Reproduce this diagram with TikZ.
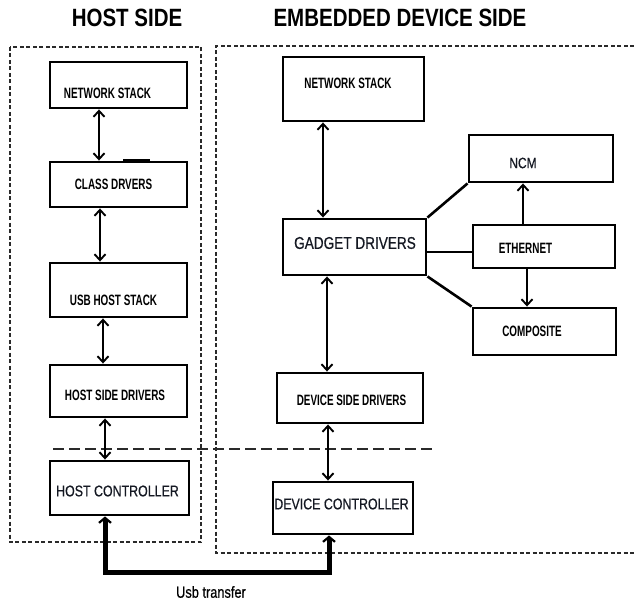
\documentclass[tikz,border=0pt]{standalone}
\usepackage{fontspec}
\setmainfont{Liberation Sans}
\newfontfamily\titlefont{Liberation Sans Bold}[FakeStretch=0.82]
\newfontfamily\boxbold{Liberation Sans Bold}[FakeStretch=0.66]
\newfontfamily\boxreg{Liberation Sans}[FakeStretch=0.8, FakeBold=0.6]
\usetikzlibrary{arrows.meta}
\definecolor{ink}{HTML}{141822}
\definecolor{bound}{HTML}{2A2A2A}
\tikzset{
  box/.style={draw, line width=2.9pt, rectangle, inner sep=0pt},
  ttl/.style={font=\titlefont\fontsize{25}{28}\selectfont, inner sep=0pt},
  lblb/.style={font=\boxbold\fontsize{15}{17}\selectfont, inner sep=0pt},
  lblr/.style={font=\boxreg\fontsize{15.5}{17}\selectfont, text=ink, inner sep=0pt},
  biarrow/.style={line width=1.9pt, {Straight Barb[length=6pt,width=11pt]}-{Straight Barb[length=6pt,width=11pt]}},
  onearrow/.style={line width=1.9pt, -{Straight Barb[length=6pt,width=11pt]}},
  link/.style={line width=2.6pt},
  usbline/.style={line width=5pt, {Straight Barb[length=5pt,width=12pt,line width=2.2pt]}-{Straight Barb[length=5pt,width=12pt,line width=2.2pt]}},
  boundary/.style={draw=bound, line width=1.1pt, dash pattern=on 4pt off 2.5pt},
  split/.style={draw=bound, line width=1.3pt, dash pattern=on 11pt off 5pt},
}
\begin{document}
\begin{tikzpicture}[x=1pt,y=-1pt]
\useasboundingbox (0,0) rectangle (634,604);

% titles
\node[ttl] (thost) at (127,18) {HOST SIDE};
\node[ttl] (tdev) at (400,18) {EMBEDDED DEVICE SIDE};

% side boundaries
\draw[boundary] (10,47) rectangle (201,542);
\draw[boundary] (634,46) -- (216,46) -- (216,553) -- (634,553);

% split between software and controllers
\coordinate (splitl) at (53,449);
\coordinate (splitr) at (433,449);
\draw[split] (splitl) -- (splitr);

% host side stack
\node[box, minimum width=137pt, minimum height=46pt] (hns) at (118.5,85) {};
\node[box, minimum width=137pt, minimum height=45pt] (hcd) at (118.5,184.5) {};
\node[box, minimum width=137pt, minimum height=54pt] (hus) at (118.5,290) {};
\node[box, minimum width=137pt, minimum height=52pt] (hsd) at (118.5,391) {};
\node[box, minimum width=139pt, minimum height=54pt] (hhc) at (119.5,488) {};

\node[lblb] (lhns) at (107.5,93) {NETWORK STACK};
\node[lblb] (lhcd) at (113.5,184.5) {CLASS DRVERS};
\node[lblb] (lhus) at (113.5,300) {USB HOST STACK};
\node[lblb] (lhsd) at (115,395) {HOST SIDE DRIVERS};
\node[lblr] (lhhc) at (117.5,491) {HOST CONTROLLER};

\coordinate (tka) at (123,160);
\coordinate (tkb) at (150,160);
\draw[line width=1.8pt] (tka) -- (tkb);

\draw[biarrow] ([xshift=-19.5pt]hns.south) -- ([xshift=-19.5pt]hcd.north);
\draw[biarrow] ([xshift=-18.5pt]hcd.south) -- ([xshift=-18.5pt]hus.north);
\draw[biarrow] ([xshift=-15.5pt]hus.south) -- ([xshift=-15.5pt]hsd.north);
\draw[biarrow] ([xshift=-13.5pt]hsd.south) -- ([xshift=-14.5pt]hhc.north);

% device side stack
\node[box, minimum width=141pt, minimum height=64pt] (dns) at (353.5,89) {};
\node[box, minimum width=143pt, minimum height=56pt] (dgd) at (354.5,247) {};
\node[box, minimum width=144pt, minimum height=47pt] (dncm) at (541,158.5) {};
\node[box, minimum width=142pt, minimum height=43pt] (deth) at (544,246.5) {};
\node[box, minimum width=143pt, minimum height=47pt] (dcomp) at (544.5,331.5) {};
\node[box, minimum width=146pt, minimum height=50pt] (dsd) at (350,398) {};
\node[box, minimum width=140pt, minimum height=52pt] (ddc) at (343,508) {};

\node[lblb] (ldns) at (348,83) {NETWORK STACK};
\node[lblr, font=\boxreg\fontsize{17}{19}\selectfont] (ldgd) at (355,243) {GADGET DRIVERS};
\node[lblr, font=\boxreg\fontsize{15}{17}\selectfont] (ldncm) at (523,163) {NCM};
\node[lblb] (ldeth) at (525.5,248) {ETHERNET};
\node[lblb] (ldcomp) at (532,331) {COMPOSITE};
\node[lblb] (ldsd) at (351.5,400) {DEVICE SIDE DRIVERS};
\node[lblr] (lddc) at (341.5,504) {DEVICE CONTROLLER};

\draw[biarrow] ([xshift=-30.5pt]dns.south) -- ([xshift=-31.5pt]dgd.north);
\draw[biarrow] ([xshift=-27.5pt]dgd.south) -- ([xshift=-23pt]dsd.north);
\draw[biarrow] ([xshift=-22pt]dsd.south) -- ([xshift=-15pt]ddc.north);

\draw[link] (dgd.north east) -- (dncm.south west);
\draw[link] ([yshift=-5pt]dgd.east) -- ([yshift=-5.5pt]deth.west);
\draw[link] (dgd.south east) -- (dcomp.north west);

\draw[onearrow] ([xshift=-21pt]deth.north) -- ([xshift=-18pt]dncm.south);
\draw[onearrow] ([xshift=-17pt]deth.south) -- ([xshift=-17.5pt]dcomp.north);

% usb link between the two controllers
\coordinate (usbrail) at (0,572);
\draw[usbline] ([xshift=-14.5pt]hhc.south) |- ([xshift=-14pt]ddc.south |- usbrail) -- ([xshift=-14pt]ddc.south);
\node[lblr, font=\boxreg\fontsize{16}{18}\selectfont, text=black] (lusb) at (211,592) {Usb transfer};
\end{tikzpicture}
\end{document}
